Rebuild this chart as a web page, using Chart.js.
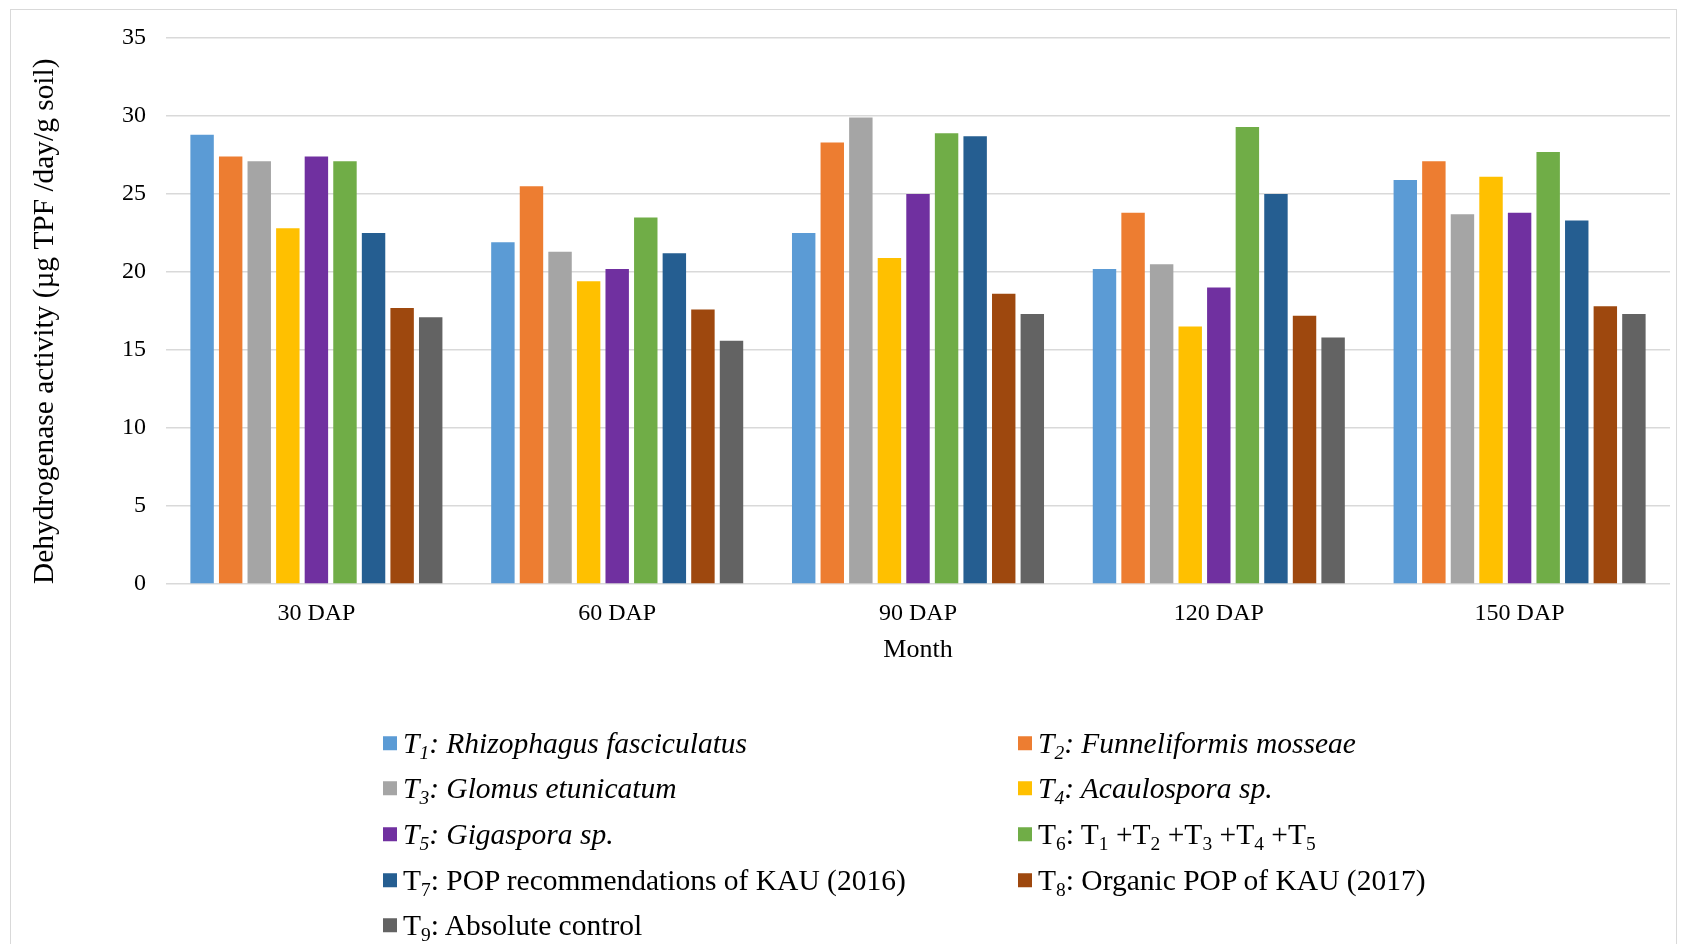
<!DOCTYPE html>
<html>
<head>
<meta charset="utf-8">
<title>Dehydrogenase activity</title>
<script src="https://cdn.jsdelivr.net/npm/chart.js@4.4.0/dist/chart.umd.min.js"></script>
<style>
  html, body { margin: 0; padding: 0; background: #fff; }
  body {
    width: 1681px; height: 944px; position: relative; overflow: hidden;
    font-family: "Liberation Serif", "Times New Roman", serif;
  }
  #frame {
    position: absolute; left: 10px; top: 9px; width: 1667px; height: 980px;
    border: 1px solid #d9d9d9; box-sizing: border-box;
  }
  #chart { position: absolute; left: 0; top: 0; }
  .legend-item {
    position: absolute; font-size: 29.5px; color: #000; white-space: nowrap;
    line-height: 1; transform: translateY(-50%);
  }
  .legend-item .sw {
    display: inline-block; width: 14px; height: 14px; margin-right: 6px;
    vertical-align: 3px;
  }
  .legend-item sub { font-size: 0.66em; vertical-align: -0.28em; line-height: 0; }
</style>
</head>
<body>
<div id="frame"></div>
<canvas id="chart" width="1681" height="944"></canvas>
<div id="legend"></div>
<script>
// categories on the x axis
const categories = ['30 DAP', '60 DAP', '90 DAP', '120 DAP', '150 DAP'];

// treatment values (µg TPF /day/g soil)
const t1 = [28.8, 21.9, 22.5, 20.2, 25.9];
const t2 = [27.4, 25.5, 28.3, 23.8, 27.1];
const t3 = [27.1, 21.3, 29.9, 20.5, 23.7];
const t4 = [22.8, 19.4, 20.9, 16.5, 26.1];
const t5 = [27.4, 20.2, 25.0, 19.0, 23.8];
const t6 = [27.1, 23.5, 28.9, 29.3, 27.7];
const t7 = [22.5, 21.2, 28.7, 25.0, 23.3];
const t8 = [17.7, 17.6, 18.6, 17.2, 17.8];
const t9 = [17.1, 15.6, 17.3, 15.8, 17.3];

const seriesValues = [t1, t2, t3, t4, t5, t6, t7, t8, t9];
const seriesNames = ['T1', 'T2', 'T3', 'T4', 'T5', 'T6', 'T7', 'T8', 'T9'];
const seriesLegend = [
  '<i>T<sub>1</sub>: Rhizophagus fasciculatus</i>',
  '<i>T<sub>2</sub>: Funneliformis mosseae</i>',
  '<i>T<sub>3</sub>: Glomus etunicatum</i>',
  '<i>T<sub>4</sub>: Acaulospora sp.</i>',
  '<i>T<sub>5</sub>: Gigaspora sp.</i>',
  'T<sub>6</sub>: T<sub>1</sub> +T<sub>2</sub> +T<sub>3</sub> +T<sub>4</sub> +T<sub>5</sub>',
  'T<sub>7</sub>: POP recommendations of KAU (2016)',
  'T<sub>8</sub>: Organic POP of KAU (2017)',
  'T<sub>9</sub>: Absolute control'
];
const seriesColors = [
  '#5b9bd5', '#ed7d31', '#a5a5a5', '#ffc000', '#7030a0',
  '#70ad47', '#255e91', '#9e480e', '#636363'
];

// y axis ticks
const yTicks = [0, 5, 10, 15, 20, 25, 30, 35];

const yAxisTitle = 'Dehydrogenase activity (µg TPF /day/g soil)';
const xAxisTitle = 'Month';

const SERIF = '"Liberation Serif", "Times New Roman", serif';

// plot box in page pixels
const PLOT_LEFT = 166;
const PLOT_RIGHT = 1670;
const PLOT_TOP = 38;
const PLOT_BOTTOM = 584;
const PAD_LEFT = 12;
const PAD_BOTTOM = 260;

const datasets = seriesValues.map((values, i) => ({
  label: seriesNames[i],
  data: values,
  backgroundColor: seriesColors[i],
  borderWidth: 0,
  categoryPercentage: 0.855,
  barPercentage: 0.82
}));

new Chart(document.getElementById('chart'), {
  type: 'bar',
  data: { labels: categories, datasets },
  options: {
    responsive: false,
    animation: false,
    devicePixelRatio: 1,
    layout: {
      padding: {
        left: PAD_LEFT,
        top: PLOT_TOP,
        right: 1681 - PLOT_RIGHT,
        bottom: PAD_BOTTOM
      }
    },
    plugins: {
      legend: { display: false },
      tooltip: { enabled: false }
    },
    scales: {
      x: {
        grid: { display: false, drawTicks: false },
        border: { display: false },
        ticks: {
          color: '#000',
          padding: 15,
          font: { family: SERIF, size: 24 }
        },
        title: {
          display: true,
          text: xAxisTitle,
          color: '#000',
          padding: { top: 0, bottom: 18 },
          font: { family: SERIF, size: 26 }
        },
        afterFit: scale => {
          scale.height = 944 - PAD_BOTTOM - PLOT_BOTTOM;
        }
      },
      y: {
        min: 0,
        max: 35,
        grid: { color: '#d9d9d9', lineWidth: 1.4, drawTicks: false },
        border: { display: false },
        afterBuildTicks: scale => {
          scale.ticks = yTicks.map(v => ({ value: v }));
        },
        ticks: {
          color: '#000',
          padding: 20,
          font: { family: SERIF, size: 24 }
        },
        title: {
          display: true,
          text: yAxisTitle,
          align: 'start',
          color: '#000',
          padding: { top: 16, bottom: 0 },
          font: { family: SERIF, size: 29.4 }
        },
        afterFit: scale => {
          scale.width = PLOT_LEFT - PAD_LEFT;
        }
      }
    }
  }
});

// legend, two columns
const legendCols = [383, 1018];
const legendRows = [744, 789, 835, 881, 926];
const legendRoot = document.getElementById('legend');
seriesLegend.forEach((html, i) => {
  const item = document.createElement('div');
  item.className = 'legend-item';
  item.style.left = legendCols[i % 2] + 'px';
  item.style.top = legendRows[Math.floor(i / 2)] + 'px';
  item.innerHTML = '<span class="sw" style="background:' + seriesColors[i] + '"></span>' + html;
  legendRoot.appendChild(item);
});
</script>
</body>
</html>
